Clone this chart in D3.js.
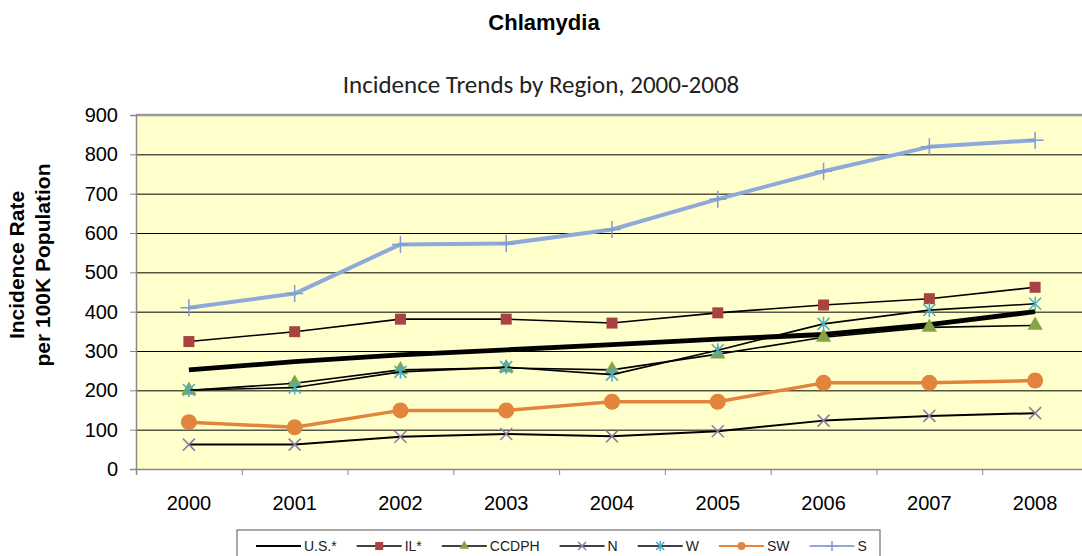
<!DOCTYPE html>
<html>
<head>
<meta charset="utf-8">
<script src="https://cdn.jsdelivr.net/npm/d3@7"></script>
<style>
  body { margin: 0; background: #fff; }
  svg { display: block; font-family: Arial, "Liberation Sans", sans-serif; }
</style>
</head>
<body>
<div id="chart"></div>
<script>
// values
var years = ["2000", "2001", "2002", "2003", "2004", "2005", "2006", "2007", "2008"];
var yTicks = [0, 100, 200, 300, 400, 500, 600, 700, 800, 900];

var us    = [252, 273, 290, 303, 316, 330, 342, 367, 400];
var il    = [324, 349, 381, 381, 371, 397, 417, 433, 462];
var ccdph = [200, 218, 252, 257, 252, 292, 335, 360, 365];
var north = [62, 62, 82, 89, 83, 96, 123, 135, 142];
var west  = [201, 207, 247, 259, 240, 302, 369, 404, 420];
var sw    = [119, 106, 149, 149, 171, 171, 219, 219, 225];
var south = [410, 446, 571, 573, 609, 686, 757, 819, 836];

var series = [
  {name: "U.S.*", values: us,    line: "#000", width: 4.8, marker: null},
  {name: "IL*",   values: il,    line: "#000", width: 1.6, marker: "square",   color: "#a94342"},
  {name: "CCDPH", values: ccdph, line: "#000", width: 1.6, marker: "triangle", color: "#86a346"},
  {name: "N",     values: north, line: "#000", width: 2,   marker: "cross",    color: "#8a7aa6"},
  {name: "W",     values: west,  line: "#000", width: 1.6, marker: "star",     color: "#4aaec6"},
  {name: "SW",    values: sw,    line: "#e2843c", width: 3.5, marker: "circle", color: "#e2843c"},
  {name: "S",     values: south, line: "#8fa9d9", width: 4, marker: "plus",    color: "#7f9bcf"}
];

var W = 1082, H = 556;
var margin = {top: 115, right: -6, bottom: 87, left: 136};
var width = W - margin.left - margin.right;
var height = H - margin.top - margin.bottom;

var svg = d3.select("#chart").append("svg")
  .attr("width", W)
  .attr("height", H);

svg.append("text")
  .attr("x", 544).attr("y", 30)
  .attr("text-anchor", "middle")
  .style("font-size", "22px").style("font-weight", "bold")
  .text("Chlamydia");

svg.append("text")
  .attr("x", 541).attr("y", 93)
  .attr("text-anchor", "middle")
  .style("font-family", "Calibri, Carlito, 'Open Sans', sans-serif")
  .style("font-size", "25px").attr("fill", "#222")
  .text("Incidence Trends by Region, 2000-2008");

var yTitle = svg.append("text")
  .attr("transform", "translate(31,265) rotate(-90)")
  .attr("text-anchor", "middle")
  .style("font-size", "21px").style("font-weight", "bold");
yTitle.append("tspan").attr("x", 0).attr("y", -7).text("Incidence Rate");
yTitle.append("tspan").attr("x", 0).attr("y", 19).text("per 100K Population");

var g = svg.append("g").attr("transform", "translate(" + margin.left + "," + margin.top + ")");

var x = d3.scaleBand().domain(years).range([0, width]);
var xEdge = d3.scaleLinear().domain([0, years.length]).range([0, width]);
var y = d3.scaleLinear().domain([0, 900]).range([height, 0]);

g.append("rect")
  .attr("width", width).attr("height", height)
  .attr("fill", "#ffffcc");

// gridlines
g.append("g")
  .call(d3.axisLeft(y).tickValues(yTicks.slice(1, -1)).tickSize(-width).tickFormat(""))
  .call(function(s) { s.select(".domain").remove(); })
  .selectAll(".tick line").attr("stroke", "#000").attr("stroke-width", 1);

g.append("line")
  .attr("x1", 0).attr("x2", width).attr("y1", 0).attr("y2", 0)
  .attr("stroke", "#999").attr("stroke-width", 2.5);

// axes
g.append("g")
  .call(d3.axisLeft(y).tickValues(yTicks).tickSize(6).tickPadding(12))
  .call(function(s) {
    s.select(".domain").attr("stroke", "#888").attr("stroke-width", 1.5);
    s.selectAll(".tick line").attr("stroke", "#888");
    s.selectAll("text").style("font-size", "20px").attr("fill", "#000");
  });

g.append("g")
  .attr("transform", "translate(0," + height + ")")
  .call(d3.axisBottom(xEdge).ticks(years.length).tickSize(6).tickFormat(""))
  .call(function(s) {
    s.select(".domain").attr("stroke", "#888").attr("stroke-width", 1.5);
    s.selectAll(".tick line").attr("stroke", "#888");
  });

g.append("g")
  .attr("transform", "translate(0," + height + ")")
  .call(d3.axisBottom(x).tickSize(0).tickPadding(27))
  .call(function(s) {
    s.select(".domain").remove();
    s.selectAll("text").style("font-size", "20px").attr("fill", "#000");
  });

var line = d3.line()
  .x(function(d, i) { return x(years[i]) + x.bandwidth() / 2; })
  .y(function(d) { return y(d); });

function drawMarker(sel, type, color, size) {
  var s = size;
  if (type === "square") {
    sel.append("rect").attr("x", -s / 2).attr("y", -s / 2).attr("width", s).attr("height", s)
      .attr("fill", color);
  } else if (type === "triangle") {
    sel.append("path").attr("d", d3.symbol(d3.symbolTriangle, s * s * 0.6)()).attr("fill", color);
  } else if (type === "circle") {
    sel.append("circle").attr("r", s / 2).attr("fill", color);
  } else if (type === "cross") {
    var h = s / 2;
    sel.append("path").attr("d", "M" + -h + "," + -h + "L" + h + "," + h + "M" + -h + "," + h + "L" + h + "," + -h)
      .attr("stroke", color).attr("stroke-width", 1.5).attr("fill", "none");
  } else if (type === "star") {
    var h2 = s / 2;
    sel.append("path").attr("d", "M" + -h2 + "," + -h2 + "L" + h2 + "," + h2 + "M" + -h2 + "," + h2 + "L" + h2 + "," + -h2 +
      "M0," + (-h2 - 1) + "L0," + (h2 + 1))
      .attr("stroke", color).attr("stroke-width", 1.5).attr("fill", "none");
  } else if (type === "plus") {
    var h3 = s / 2;
    sel.append("path").attr("d", "M" + -h3 + ",0L" + h3 + ",0M0," + -h3 + "L0," + h3)
      .attr("stroke", color).attr("stroke-width", 1.5).attr("fill", "none");
  }
}

var markerSize = {square: 11, triangle: 13, circle: 16, cross: 12, star: 12, plus: 17};

series.forEach(function(s) {
  g.append("path")
    .datum(s.values)
    .attr("fill", "none")
    .attr("stroke", s.line)
    .attr("stroke-width", s.width)
    .attr("stroke-linejoin", "round")
    .attr("d", line);
  if (s.marker) {
    g.selectAll(null)
      .data(s.values)
      .enter().append("g")
      .attr("transform", function(d, i) {
        return "translate(" + (x(years[i]) + x.bandwidth() / 2) + "," + y(d) + ")";
      })
      .each(function() { drawMarker(d3.select(this), s.marker, s.color, markerSize[s.marker]); });
  }
});

// legend
var legend = svg.append("g");
legend.append("rect")
  .attr("x", 237).attr("y", 530).attr("width", 643).attr("height", 40)
  .attr("fill", "#fff").attr("stroke", "#555").attr("stroke-width", 1);

var lx = 256;
series.forEach(function(s) {
  var item = legend.append("g").attr("transform", "translate(" + lx + ",546)");
  item.append("line").attr("x1", 0).attr("x2", 45)
    .attr("stroke", s.line).attr("stroke-width", s.width > 2.5 ? 2 : 1.5);
  if (s.marker) {
    var m = item.append("g").attr("transform", "translate(22.5,0)");
    drawMarker(m, s.marker, s.color, s.marker === "plus" ? 10 : 8);
  }
  var t = item.append("text").attr("x", 48).attr("dy", "0.35em")
    .style("font-size", "14px").attr("fill", "#222").text(s.name);
  lx += 48 + t.node().getComputedTextLength() + 20;
});
</script>
</body>
</html>
